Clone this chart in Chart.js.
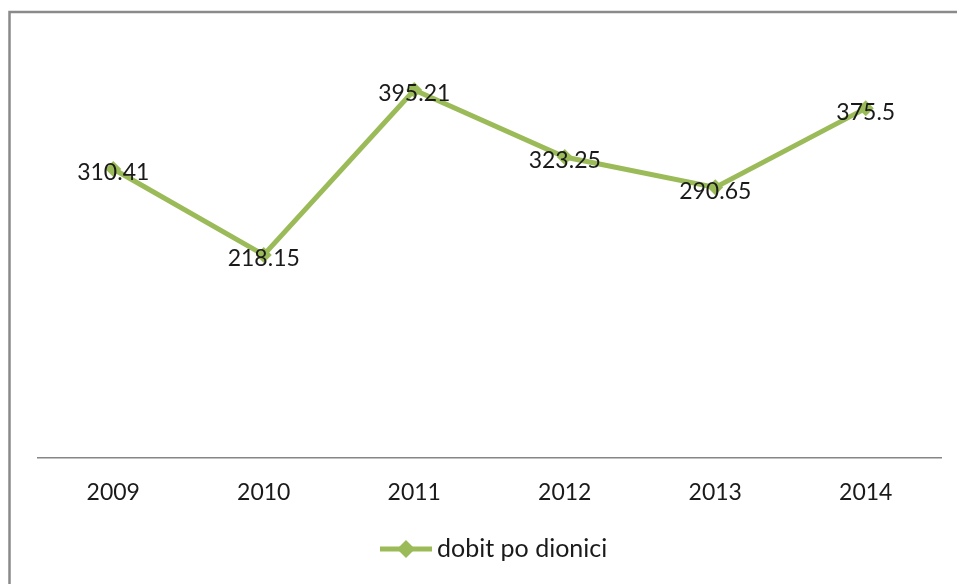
<!DOCTYPE html>
<html>
<head>
<meta charset="utf-8">
<script src="https://cdn.jsdelivr.net/npm/chart.js@4/dist/chart.umd.min.js"></script>
<style>
    html, body { margin: 0; padding: 0; background: #fff; }
    canvas { display: block; }
</style>
</head>
<body>
<canvas id="chart" width="957" height="584"></canvas>
<script>
// Podaci
const years = ['2009', '2010', '2011', '2012', '2013', '2014'];
const dobitPoDionici = [310.41, 218.15, 395.21, 323.25, 290.65, 375.5];
const valueLabels = ['310.41', '218.15', '395.21', '323.25', '290.65', '375.5'];
const seriesName = 'dobit po dionici';

const green = '#9bbb59';
const fontFamily = 'Lato, "Open Sans", sans-serif';

// Okvir oko cijelog grafikona
const framePlugin = {
    id: 'frame',
    beforeDraw(chart) {
        const ctx = chart.ctx;
        ctx.save();
        ctx.fillStyle = '#fff';
        ctx.fillRect(0, 0, chart.width, chart.height);
        ctx.strokeStyle = '#8a8a8a';
        ctx.lineWidth = 2.5;
        ctx.strokeRect(9.5, 12, 1200, 1200);
        ctx.restore();
    }
};

// Oznake vrijednosti na tockama
const valueLabelPlugin = {
    id: 'valueLabels',
    afterDatasetsDraw(chart) {
        const ctx = chart.ctx;
        const meta = chart.getDatasetMeta(0);
        ctx.save();
        ctx.font = '23px ' + fontFamily;
        ctx.fillStyle = '#1a1a1a';
        ctx.textAlign = 'center';
        ctx.textBaseline = 'middle';
        meta.data.forEach((pt, i) => {
            ctx.fillText(valueLabels[i], pt.x, pt.y + 4);
        });
        ctx.restore();
    }
};

// Legenda ispod grafikona (linija + romb)
const legendPlugin = {
    id: 'customLegend',
    afterDraw(chart) {
        const ctx = chart.ctx;
        const y = 549;
        ctx.save();
        ctx.strokeStyle = green;
        ctx.lineWidth = 5;
        ctx.beginPath();
        ctx.moveTo(380, y);
        ctx.lineTo(432, y);
        ctx.stroke();
        ctx.fillStyle = green;
        ctx.beginPath();
        ctx.moveTo(406, y - 9);
        ctx.lineTo(415, y);
        ctx.lineTo(406, y + 9);
        ctx.lineTo(397, y);
        ctx.closePath();
        ctx.fill();
        ctx.font = '25px ' + fontFamily;
        ctx.fillStyle = '#1a1a1a';
        ctx.textAlign = 'left';
        ctx.textBaseline = 'middle';
        ctx.fillText(seriesName, 437, y);
        ctx.restore();
    }
};

const ctx = document.getElementById('chart').getContext('2d');
new Chart(ctx, {
    type: 'line',
    data: {
        labels: years,
        datasets: [{
            label: seriesName,
            data: dobitPoDionici,
            borderColor: green,
            backgroundColor: green,
            borderWidth: 5,
            tension: 0,
            fill: false,
            pointStyle: 'rectRot',
            pointRadius: 8,
            pointHoverRadius: 8,
            pointBorderWidth: 0
        }]
    },
    options: {
        responsive: false,
        animation: false,
        devicePixelRatio: 1,
        layout: {
            padding: { left: 38, right: 16, top: 39, bottom: 0 }
        },
        plugins: {
            legend: { display: false },
            tooltip: { enabled: false }
        },
        scales: {
            x: {
                offset: true,
                grid: { display: false, drawTicks: false },
                border: { display: true, color: '#868686', width: 1.5 },
                ticks: {
                    padding: 21,
                    color: '#1a1a1a',
                    font: { family: fontFamily, size: 23 }
                },
                afterFit(scale) { scale.height = 126; }
            },
            y: {
                display: false,
                min: 0,
                max: 450
            }
        }
    },
    plugins: [framePlugin, valueLabelPlugin, legendPlugin]
});
</script>
</body>
</html>
